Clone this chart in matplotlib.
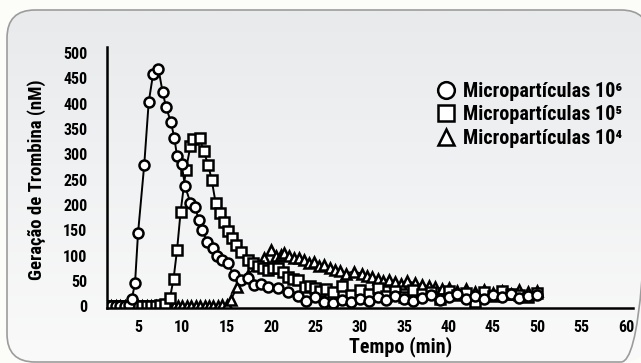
import numpy as np
import matplotlib
matplotlib.use("Agg")
import matplotlib.pyplot as plt
from matplotlib.patches import FancyBboxPatch
from matplotlib.lines import Line2D
from matplotlib import font_manager

available = {f.name for f in font_manager.fontManager.ttflist}
candidates = ['Liberation Sans Narrow', 'DejaVu Sans Condensed', 'Roboto Condensed',
              'Open Sans Condensed', 'Liberation Sans', 'DejaVu Sans']
MAIN = next(c for c in candidates if c in available)
NARROW = MAIN in ('Liberation Sans Narrow', 'DejaVu Sans Condensed', 'Roboto Condensed', 'Open Sans Condensed')
FONT = [MAIN, 'DejaVu Sans']
plt.rcParams['font.family'] = FONT
plt.rcParams['font.weight'] = 'bold'

# ---------------- data ----------------
series_labels = ['Micropartículas 10\u2076', 'Micropartículas 10\u2075', 'Micropartículas 10\u2074']

c_time = [1.5, 2.0, 2.5, 3.0, 3.5, 4.0, 4.3, 4.66, 5.0, 5.7, 6.2, 6.7, 7.3, 7.76, 8.15, 8.7, 9.1, 9.4, 9.9,
          10.3, 10.9, 11.4, 11.85, 12.2, 12.8, 13.4, 13.9, 14.5, 15.1, 15.8, 16.6, 17.35, 18.1, 18.9, 19.6,
          20.75, 21.9, 23.0, 23.9, 24.9, 26.0, 27.0, 28.0, 29.0, 30.0, 31.0, 32.0, 33.0, 34.0, 35.0, 36.0,
          37.0, 38.0, 39.0, 40.0, 41.0, 42.0, 43.0, 44.0, 45.0, 46.0, 47.0, 48.0, 49.0, 50.0]
c_vals = [1, 1, 1, 1, 1, 2, 15, 46, 145, 280, 403, 459, 469, 424, 394, 364, 332, 296, 282,
          237, 205, 197, 171, 151, 128, 115, 100, 92, 85, 62, 52, 56, 42, 44, 39,
          36, 29, 21, 11, 19, 9, 6, 12, 8, 15, 10, 18, 12, 20, 14, 10, 16,
          22, 12, 18, 24, 15, 20, 14, 22, 18, 25, 16, 20, 22]

s_time = [1.5, 2.0, 2.5, 3.0, 3.5, 4.0, 4.5, 5.0, 5.5, 6.0, 6.5, 7.0, 7.5, 8.0, 8.6, 9.0, 9.4, 9.8,
          10.4, 10.9, 11.2, 11.95, 12.4, 12.9, 13.3, 13.75, 14.2, 14.7, 15.1, 15.6, 16.0, 16.6, 17.35,
          18.0, 18.5, 19.1, 19.6, 20.2, 20.75, 21.3, 21.9, 22.5, 23.0, 23.8, 24.4, 24.9, 25.5, 26.2,
          27.0, 28.0, 29.0, 30.0, 31.0, 32.0, 33.0, 34.0, 35.0, 36.0, 37.0, 38.0, 39.0, 40.0, 41.0,
          42.0, 43.0, 44.0, 45.0, 46.0, 47.0, 48.0, 49.0, 50.0]
s_vals = [1, 1, 1, 1, 1, 1, 1, 1, 1, 1, 1, 1, 2, 4, 17, 54, 112, 187,
          270, 316, 330, 332, 306, 280, 250, 204, 184, 166, 148, 135, 121, 108, 92,
          85, 79, 75, 72, 76, 75, 68, 59, 55, 52, 39, 40, 36, 30, 34,
          28, 40, 22, 33, 25, 36, 20, 30, 18, 32, 24, 28, 15, 30, 22,
          26, 8, 28, 20, 30, 24, 22, 18, 27]

t_time = [1.5, 2.0, 2.5, 3.0, 3.5, 4.0, 4.5, 5.0, 5.5, 6.0, 6.5, 7.0, 7.5, 8.0, 8.5, 9.0, 9.5, 10.0,
          10.5, 11.0, 11.5, 12.0, 12.5, 13.0, 13.5, 14.0, 14.5, 15.0, 15.45, 16.2, 17.35, 18.5, 19.25,
          20.0, 20.5, 21.1, 21.5, 22.0, 22.6, 23.2, 23.75, 24.3, 24.8, 25.4, 26.0, 26.6, 27.2, 27.8,
          28.4, 29.3, 30.2, 30.8, 31.4, 32.0, 32.6, 33.3, 34.0, 34.6, 35.3, 36.25, 37.0, 37.8, 38.5,
          39.3, 40.1, 41.0, 42.0, 43.0, 44.0, 45.0, 46.0, 47.0, 48.0, 49.0, 50.0]
t_vals = [1, 1, 1, 1, 1, 1, 1, 1, 1, 1, 1, 1, 1, 1, 1, 1, 1, 1,
          1, 1, 1, 1, 1, 1, 1, 1, 2, 3, 13, 39, 62, 82, 95,
          112, 100, 102, 105, 100, 96, 95, 92, 85, 88, 80, 82, 75, 72, 70,
          65, 69, 65, 60, 59, 55, 50, 52, 48, 45, 50, 46, 42, 40, 38,
          35, 36, 30, 34, 28, 32, 26, 30, 25, 32, 28, 30]

x_ticks = [5, 10, 15, 20, 25, 30, 35, 40, 45, 50, 55, 60]
y_ticks = [0, 50, 100, 150, 200, 250, 300, 350, 400, 450, 500]

# ---------------- figure ----------------
W, H = 641, 363
fig = plt.figure(figsize=(W / 100, H / 100), dpi=100)
fig.patch.set_facecolor('#fcfcf9')

bg = fig.add_axes([0, 0, 1, 1], zorder=-5)
card = FancyBboxPatch((7, 10), 642, 352, boxstyle='round,pad=0,rounding_size=28',
                      facecolor='none', edgecolor='#9c9c9c', linewidth=1.2, zorder=2)
bg.add_patch(card)
grad = np.linspace(0, 1, 256).reshape(-1, 1)
im = bg.imshow(grad, extent=(7, 649, 362, 10), cmap=matplotlib.colors.LinearSegmentedColormap.from_list(
    'g', ['#e8eaec', '#fafafa']), aspect='auto', zorder=1)
im.set_clip_path(card)
bg.set_xlim(0, W)
bg.set_ylim(H, 0)
bg.axis('off')

ax = fig.add_axes([107 / W, 1 - 308 / H, (633 - 107) / W, (308 - 47) / H])
ax.patch.set_alpha(0)

style = dict(color='black', markerfacecolor='white', markeredgecolor='black',
             markersize=7.2, markeredgewidth=1.8, linewidth=1.4)
ax.plot(t_time, t_vals, marker='^', **style)
ax.plot(s_time, s_vals, marker='s', **style)
ax.plot(c_time, c_vals, marker='o', **style)

tick_size = 11.5 if NARROW else 10
label_size = 13.5 if NARROW else 11.5
xlabel_size = 14.5 if NARROW else 12.5
leg_size = 14.5 if NARROW else 12.5

ax.set_xlim(1.5, 60.8)
ax.set_ylim(-3, 512)
ax.set_xticks(x_ticks)
ax.set_yticks(y_ticks)
ax.tick_params(axis='both', length=0, labelsize=tick_size)
ax.tick_params(axis='y', pad=14)
ax.tick_params(axis='x', pad=9)
for lab in ax.get_xticklabels() + ax.get_yticklabels():
    lab.set_fontweight('bold')
for sp in ['top', 'right']:
    ax.spines[sp].set_visible(False)
for sp in ['left', 'bottom']:
    ax.spines[sp].set_linewidth(1.8)

ax.set_ylabel('Geração de Trombina (nM)', fontsize=label_size, fontweight='bold')
ax.yaxis.set_label_coords((37 - 107) / (633 - 107), 0.49)
ax.yaxis.label.set_va('center')
ax.set_xlabel('Tempo (min)', fontsize=xlabel_size, fontweight='bold')
ax.xaxis.set_label_coords((401 - 107) / (633 - 107), (308 - 347) / (308 - 47))
ax.xaxis.label.set_va('center')

handles = [Line2D([], [], linestyle='none', marker=m, markersize=12, markerfacecolor='white',
                  markeredgecolor='black', markeredgewidth=1.8) for m in ['o', 's', '^']]
leg = ax.legend(handles, series_labels, loc='upper left', frameon=False,
                bbox_to_anchor=(436 / W, 1 - 82 / H), bbox_transform=fig.transFigure,
                prop={'family': FONT, 'weight': 'bold', 'size': leg_size},
                handlelength=1.0, handletextpad=0.35, labelspacing=0.22, borderpad=0, borderaxespad=0)

fig.savefig('out.png', dpi=100)
